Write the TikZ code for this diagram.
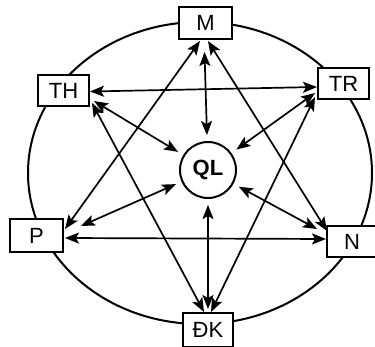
\documentclass[tikz,border=0pt]{standalone}
\usepackage{fontspec}
\setmainfont{Liberation Sans}
\usetikzlibrary{arrows.meta,calc}
\begin{document}
\begin{tikzpicture}[x=1pt,y=-1pt,
  lbl/.style={draw, line width=2pt, fill=white, inner sep=0pt,
    font=\fontsize{22}{24}\selectfont, minimum width=51pt, minimum height=31pt},
  hub/.style={circle, draw, line width=2pt, fill=white, inner sep=0pt,
    minimum size=56pt, outer sep=7pt, font=\bfseries\fontsize{22}{24}\selectfont},
  tip/.tip={Stealth[length=14pt,width=11pt,inset=3pt]},
  link/.style={line width=1.7pt, tip-tip},
]
\useasboundingbox (0,0) rectangle (375,347);
\fill[white] (0,0) rectangle (375,347);

% outer ring
\draw[line width=2pt] (200,173) ellipse [x radius=172pt, y radius=151pt];

% departments
\node[lbl, minimum width=53pt, minimum height=32pt] (M)  at (205.5,23)  {M};
\node[lbl] (TH) at (63.5,91)   {TH};
\node[lbl] (TR) at (343.5,84)  {TR};
\node[lbl, minimum width=53pt, minimum height=33pt] (P)  at (36.5,235.5) {P};
\node[lbl, minimum width=50pt] (N)  at (352,241.5) {N};
\node[lbl, minimum width=50pt, minimum height=34pt] (DK) at (208,330) {ĐK};
\node[hub] (QL) at (208,170) {QL};

% triangle M - P - N
\draw[link] ($(M.south)+(-5.5,1)$) -- ($(P.east)+(1,-6.5)$);
\draw[link] ($(M.south)+(2.5,1)$)  -- ($(N.west)+(1,-10.5)$);
\draw[link] ($(P.east)+(1,2.5)$)   -- ($(N.west)+(0,-2.5)$);

% triangle TH - TR - DK
\draw[link] ($(TH.east)+(0,0.5)$)  -- ($(TR.west)+(0,3)$);
\draw[link] ($(TH.east)+(2,12)$)   -- ($(DK.north)+(-4,0)$);
\draw[link] ($(TR.west)+(-2,13)$)  -- ($(DK.north)+(3,0)$);

% spokes to the centre
\draw[link] ($(M.south)+(-1,12)$)  -- (QL);
\draw[link] ($(DK.north)+(0,-3)$)  -- (QL);
\draw[link] ($(TH.east)+(4,10)$)   -- (QL);
\draw[link] ($(TR.west)+(-2,9)$)   -- (QL);
\draw[link] ($(P.east)+(17,-9.5)$) -- (QL);
\draw[link] ($(N.west)+(-9,-12.5)$) -- (QL);
\end{tikzpicture}
\end{document}
